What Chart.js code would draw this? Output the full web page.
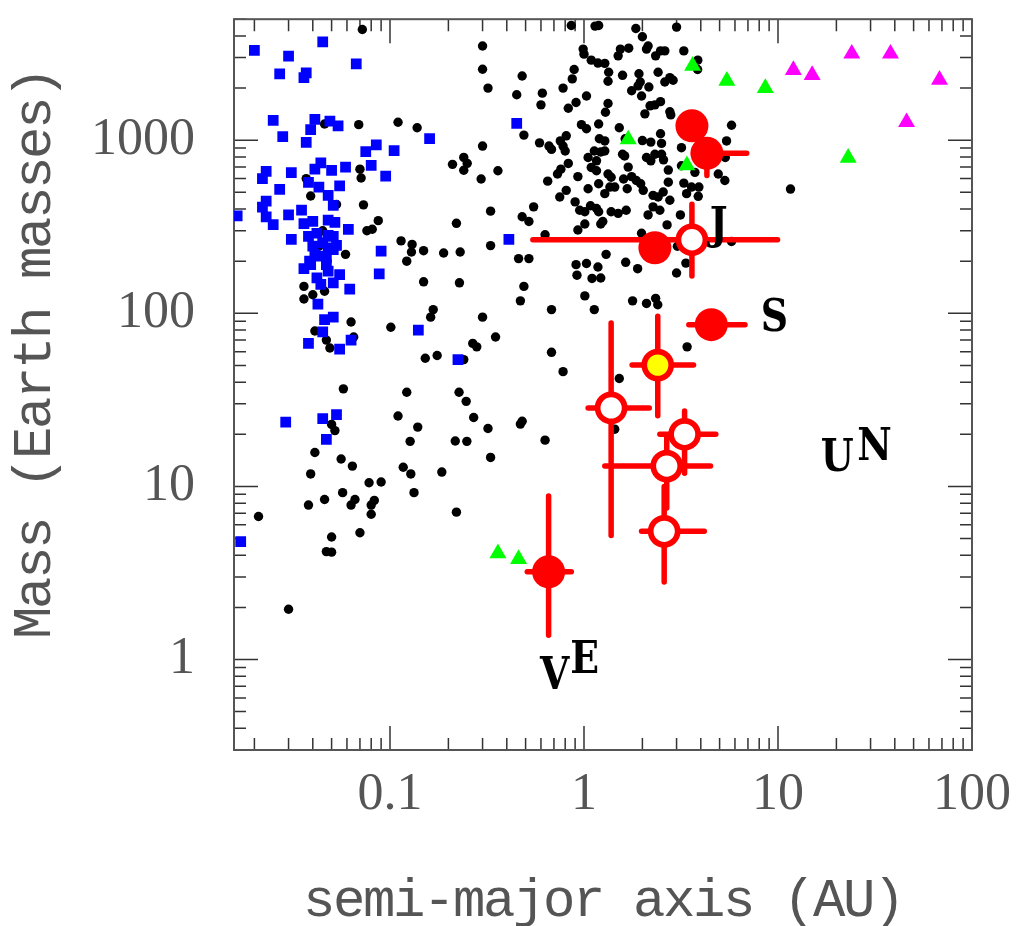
<!DOCTYPE html>
<html>
<head>
<meta charset="utf-8">
<title>Mass vs semi-major axis</title>
<script src="https://cdn.jsdelivr.net/npm/chart.js@4.4.1/dist/chart.umd.min.js"></script>
<style>
  html, body { margin: 0; padding: 0; background: #ffffff; }
</style>
</head>
<body>
<canvas id="massChart" width="1021" height="926"></canvas>
<script>
// values, as [semi-major axis (AU), mass (Earth masses)]
const blackDots = [
  [0.072,4360],[0.046,1240],[0.069,1230],[0.11,1270],[0.138,1180],[0.21,725],[0.24,795],[0.25,735],[0.24,670],[0.070,680],
  [0.071,605],[0.037,600],[0.039,476],[0.053,425],[0.073,423],[0.087,343],[0.076,300],[0.081,306],[0.22,331],[0.114,262],
  [0.130,250],[0.129,226],[0.149,230],[0.189,223],[0.23,226],[0.059,219],[0.122,200],[0.045,300],[0.043,244],
  [0.149,152],[0.228,150],[0.036,143],[0.040,128],[0.046,134],[0.036,121],[0.167,105],[0.162,95],[0.063,89],[0.101,83],
  [0.041,79],[0.065,73],[0.047,70],[0.049,63],[0.267,67],[0.28,64],[0.152,55],[0.175,57],[0.24,54],[0.0575,36.6],
  [0.122,35],[0.227,35],[0.247,31],[0.11,25.5],[0.27,25],[0.050,22.8],[0.052,21],[0.139,22],[0.127,18.2],[0.217,18.3],
  [0.249,18.2],[0.041,15.7],[0.056,14.4],[0.064,13.1],[0.039,11.8],[0.117,12.9],[0.128,11.8],[0.185,12.1],[0.078,10.5],
  [0.090,10.6],[0.057,9.2],[0.133,9.2],[0.046,8.4],[0.066,8.4],[0.083,8.3],[0.038,7.8],[0.063,7.8],[0.080,7.8],
  [0.021,6.7],[0.080,6.9],[0.22,7.1],[0.050,5.1],[0.070,5.4],[0.047,4.2],[0.050,4.17],[0.030,1.95],
  [0.86,4600],[1.14,4560],[1.19,4600],[1.85,4420],[3.0,4500],[0.30,3500],[2.0,3960],[2.14,3500],[2.10,3360],[0.99,3360],
  [1.0,3140],[1.54,3360],[1.70,3400],[1.50,3070],[2.34,3070],[2.48,3280],[2.61,3280],[3.27,3280],[3.86,2900],[1.09,2900],
  [1.18,2790],[1.28,2780],[0.30,2570],[0.48,2350],[0.89,2560],[0.87,2260],[1.34,2470],[1.33,2190],[1.58,2370],[1.92,2420],
  [1.95,2170],[1.90,2060],[2.16,2030],[2.41,2470],[2.61,2170],[2.77,2300],[2.88,2220],[3.85,2560],[0.32,2000],[0.45,1830],
  [0.61,1870],[0.60,1600],[0.78,2000],[0.83,1530],[0.91,1650],[1.03,1800],[1.33,1630],[1.29,1450],[1.76,1930],[1.98,1800],
  [2.19,1580],[2.32,1600],[2.48,1670],[2.06,1420],[2.77,1460],[2.80,1400],[0.49,1070],[0.59,965],[0.66,925],[0.68,885],
  [0.755,990],[0.78,925],[0.81,1060],[0.80,866],[0.97,1230],[1.03,1165],[1.19,1240],[1.2,1020],[1.28,990],[1.52,1180],
  [1.63,1020],[2.0,995],[2.21,975],[2.48,1090],[2.51,958],[3.18,905],[5.43,990],[0.30,925],[0.36,666],[0.295,597],
  [0.65,580],[0.73,638],[0.76,680],[0.83,734],[0.93,616],[1.05,794],[1.13,866],[1.16,760],[1.22,855],[1.28,866],
  [1.09,696],[1.16,666],[1.33,638],[1.38,611],[1.19,560],[1.58,829],[1.62,811],[1.69,699],[1.60,597],[1.76,616],
  [1.86,585],[2.10,794],[2.21,760],[2.32,829],[2.51,829],[2.57,770],[2.72,672],[3.18,712],[2.72,572],[3.27,565],
  [3.73,652],[4.92,638],[5.32,585],[0.75,470],[0.81,513],[0.90,440],[1.05,524],[0.95,394],[1.01,386],[1.08,418],
  [1.16,403],[1.19,386],[1.28,491],[1.36,536],[1.44,536],[1.38,386],[1.50,378],[1.65,394],[1.67,524],[1.96,560],
  [2.02,513],[2.27,480],[2.41,470],[2.56,502],[2.77,450],[3.38,491],[3.58,536],[3.91,536],[3.88,474],[2.27,412],
  [2.46,394],[2.14,370],[0.55,412],[0.48,361],[0.52,339],[0.33,389],[3.14,370],[0.93,303],[1.01,328],[1.22,328],
  [1.25,339],[2.68,324],[1.98,290],[0.63,284],[0.33,246],[3.03,244],[1.30,219],[0.46,207],[0.52,207],[5.35,794],
  [0.91,191],[1.03,194],[1.18,185],[0.92,166],[1.10,159],[1.22,160],[1.64,197],[1.89,181],[3.0,171],[3.35,195],
  [0.49,143],[0.47,118],[1.01,126],[1.13,105],[0.68,105],[1.78,118],[2.10,114],[2.34,122],[2.40,112],[0.30,95],
  [0.35,73],[0.68,59.5],[0.78,46],[1.52,42],[3.40,64],[0.48,23.8],[0.47,22.9],[0.32,21.6],[0.63,18.5],[0.33,14.7],
  [1.44,21.4],[5.76,1220],[11.6,522],[5.76,260]
];

const blueSquares = [
  [0.020,3300],[0.045,3700],[0.030,3060],[0.027,2420],[0.037,2450],[0.036,2300],[0.067,2760],[0.025,1300],[0.041,1320],
  [0.049,1290],[0.054,1210],[0.039,1150],[0.028,1050],[0.037,970],[0.075,860],[0.085,940],[0.105,870],[0.16,1020],
  [0.080,715],[0.059,700],[0.050,670],[0.044,740],[0.041,680],[0.031,650],[0.023,660],[0.022,600],[0.095,620],
  [0.038,570],[0.043,535],[0.055,545],[0.027,520],[0.048,480],[0.023,445],[0.022,410],[0.051,420],[0.0163,365],
  [0.023,360],[0.035,395],[0.030,370],[0.025,325],[0.036,330],[0.040,340],[0.048,345],[0.052,335],[0.061,305],
  [0.031,267],[0.038,278],[0.042,290],[0.048,282],[0.051,278],[0.040,244],[0.053,247],[0.051,233],[0.090,229],
  [0.043,214],[0.047,209],[0.0385,200],[0.045,255],[0.048,239],[0.041,219],
  [0.036,181],[0.039,191],[0.047,191],[0.048,175],[0.042,160],[0.055,167],[0.051,150],[0.044,147],[0.088,169],
  [0.062,138],[0.0425,113],[0.046,92],[0.051,95],[0.045,78],[0.038,67],[0.063,70],[0.055,62],[0.14,80],[0.224,54],
  [0.029,23.5],[0.045,24.6],[0.053,26],[0.047,18.7],[0.017,4.8],[0.45,1250],[0.41,267]
];

const greenTriangles = [
  [3.63,2690],[5.45,2200],[1.69,1010],[3.39,715],[8.6,2000],[23,790],[0.36,4.1],[0.46,3.8]
];

const magentaTriangles = [
  [24,3160],[38,3160],[12,2540],[15,2380],[68,2230],[46,1270]
];

// red planets; error ranges are [low, high] in AU and in Earth masses, null where none is drawn
const filledPlanets = [[3.6,1210],[4.3,840],[2.32,239],[4.53,86],[0.657,3.21]];
const filledErrA = [null, [null, 6.9], null, [3.47, 6.76], [0.51, 0.86]];
const filledErrM = [null, [625, null], null, null, [1.38, 8.8]];

const openPlanets = [[3.6,266],[1.38,28.4],[3.30,20.0],[2.67,13.1],[2.59,5.5]];
const openErrA = [[0.545, 9.95], [1.05, 2.17], [2.46, 4.78], [1.28, 4.49], [1.98, 4.17]];
const openErrM = [[164, 427], [5.2, 88], [11.9, 27.3], [7.5, 19.3], [2.8, 10]];

const yellowPlanets = [[2.40,50.2]];
const yellowErrA = [[1.77, 3.67]];
const yellowErrM = [[25.6, 96]];

// Solar System letters, placed at [AU, Earth masses] (centre, baseline)
const letterText = ['J', 'S', 'U', 'N', 'V', 'E'];
const letterA = [4.95, 9.57, 20.2, 31.4, 0.706, 1.008];
const letterM = [268, 78.6, 12.2, 14.3, 0.678, 0.832];

const xTickValues = [0.1, 1, 10, 100];
const xTickLabels = ['0.1', '1', '10', '100'];
const yTickValues = [1, 10, 100, 1000];
const yTickLabels = ['1', '10', '100', '1000'];
const xTitle = 'semi-major axis (AU)';
const yTitle = 'Mass (Earth masses)';

const toXY = (list) => list.map(p => ({ x: p[0], y: p[1] }));

const errorGroups = [
  { points: filledPlanets, errA: filledErrA, errM: filledErrM },
  { points: openPlanets, errA: openErrA, errM: openErrM },
  { points: yellowPlanets, errA: yellowErrA, errM: yellowErrM }
];

/**
 * box round the plot with inward tick marks on all four sides
 */
const frameTicks = {
  id: 'frameTicks',
  beforeDatasetsDraw (chart) {
    const { ctx, chartArea: a, scales: { x, y } } = chart;
    ctx.save();
    ctx.strokeStyle = '#333';
    ctx.lineWidth = 1.5;
    ctx.beginPath();
    for (let d = -2; d <= 3; d++) {
      for (let k = 1; k <= 9; k++) {
        const v = k * Math.pow(10, d);
        const len = k === 1 ? 24 : 12;
        if (v >= x.min && v <= x.max) {
          const px = x.getPixelForValue(v);
          ctx.moveTo(px, a.bottom); ctx.lineTo(px, a.bottom - len);
          ctx.moveTo(px, a.top); ctx.lineTo(px, a.top + len);
        }
        if (v >= y.min && v <= y.max) {
          const py = y.getPixelForValue(v);
          ctx.moveTo(a.left, py); ctx.lineTo(a.left + len, py);
          ctx.moveTo(a.right, py); ctx.lineTo(a.right - len, py);
        }
      }
    }
    ctx.stroke();
    ctx.strokeStyle = '#555';
    ctx.lineWidth = 2;
    ctx.strokeRect(a.left, a.top, a.right - a.left, a.bottom - a.top);
    ctx.restore();
  }
};

/**
 * red error bars, drawn just before the red circles so the circles sit on top
 */
const errorBars = {
  id: 'errorBars',
  beforeDatasetDraw (chart, args) {
    if (chart.data.datasets[args.index].label !== 'filled') return;
    const { ctx, scales: { x, y } } = chart;
    ctx.save();
    ctx.strokeStyle = '#ff0000';
    ctx.lineWidth = 5.5;
    ctx.lineCap = 'round';
    errorGroups.forEach(g => {
      g.points.forEach((p, i) => {
        const px = x.getPixelForValue(p[0]);
        const py = y.getPixelForValue(p[1]);
        const ea = g.errA[i];
        const em = g.errM[i];
        ctx.beginPath();
        if (ea) {
          ea.forEach(v => {
            if (v !== null) { ctx.moveTo(px, py); ctx.lineTo(x.getPixelForValue(v), py); }
          });
        }
        if (em) {
          em.forEach(v => {
            if (v !== null) { ctx.moveTo(px, py); ctx.lineTo(px, y.getPixelForValue(v)); }
          });
        }
        ctx.stroke();
      });
    });
    ctx.restore();
  }
};

/**
 * planet letters and the two axis titles
 */
const annotations = {
  id: 'annotations',
  afterDraw (chart) {
    const { ctx, chartArea: a, scales: { x, y } } = chart;
    ctx.save();
    ctx.fillStyle = '#000';
    ctx.font = 'bold 45px "DejaVu Serif", serif';
    ctx.textAlign = 'center';
    ctx.textBaseline = 'alphabetic';
    letterText.forEach((t, i) => {
      ctx.save();
      ctx.translate(x.getPixelForValue(letterA[i]), y.getPixelForValue(letterM[i]));
      ctx.scale(0.84, 1);
      ctx.fillText(t, 0, 0);
      ctx.restore();
    });

    ctx.fillStyle = '#555';
    ctx.font = '54px "Liberation Mono", "Courier New", monospace';
    if ('letterSpacing' in ctx) ctx.letterSpacing = '-2.4px';
    ctx.fillText(xTitle, (a.left + a.right) / 2, 916);
    ctx.translate(50, 354);
    ctx.rotate(-Math.PI / 2);
    ctx.fillText(yTitle, 0, 0);
    ctx.restore();
  }
};

const tickFont = { family: '"Liberation Serif", "Times New Roman", serif', size: 52 };

const config = {
  type: 'scatter',
  data: {
    datasets: [
      { label: 'open', data: toXY(openPlanets), pointStyle: 'circle', pointRadius: 13.5, borderWidth: 5.7, borderColor: '#ff0000', backgroundColor: '#ffffff', order: 0 },
      { label: 'yellow', data: toXY(yellowPlanets), pointStyle: 'circle', pointRadius: 13.5, borderWidth: 5.7, borderColor: '#ff0000', backgroundColor: '#ffff00', order: 0 },
      { label: 'filled', data: toXY(filledPlanets), pointStyle: 'circle', pointRadius: 16.5, borderWidth: 0, backgroundColor: '#ff0000', order: 1 },
      { label: 'magenta', data: toXY(magentaTriangles), pointStyle: 'triangle', pointRadius: 9.8, borderWidth: 0, backgroundColor: '#ff00ff', order: 2 },
      { label: 'green', data: toXY(greenTriangles), pointStyle: 'triangle', pointRadius: 9.8, borderWidth: 0, backgroundColor: '#00ff00', order: 2 },
      { label: 'blue', data: toXY(blueSquares), pointStyle: 'rect', pointRadius: 7.6, borderWidth: 0, backgroundColor: '#0000ff', order: 3 },
      { label: 'black', data: toXY(blackDots), pointStyle: 'circle', pointRadius: 4.7, borderWidth: 0, backgroundColor: '#000000', order: 4 }
    ]
  },
  options: {
    responsive: false,
    animation: false,
    events: [],
    layout: { padding: { left: 0, top: 13, right: 49, bottom: 0 } },
    plugins: { legend: { display: false }, tooltip: { enabled: false } },
    scales: {
      x: {
        type: 'logarithmic',
        min: 0.0157,
        max: 100,
        grid: { display: false, drawTicks: false },
        border: { display: false },
        afterBuildTicks: (axis) => { axis.ticks = xTickValues.map(v => ({ value: v })); },
        afterFit: (axis) => { axis.height = 176; axis.paddingLeft = 0; axis.paddingRight = 0; },
        ticks: {
          autoSkip: false,
          maxRotation: 0,
          minRotation: 0,
          padding: 14,
          color: '#555',
          font: tickFont,
          callback: (value) => xTickLabels[xTickValues.indexOf(value)]
        }
      },
      y: {
        type: 'logarithmic',
        min: 0.318,
        max: 5000,
        grid: { display: false, drawTicks: false },
        border: { display: false },
        afterBuildTicks: (axis) => { axis.ticks = yTickValues.map(v => ({ value: v })); },
        afterFit: (axis) => { axis.width = 234; axis.paddingTop = 0; axis.paddingBottom = 0; },
        ticks: {
          autoSkip: false,
          padding: 39,
          color: '#555',
          font: tickFont,
          callback: (value) => yTickLabels[yTickValues.indexOf(value)]
        }
      }
    }
  },
  plugins: [frameTicks, errorBars, annotations]
};

const massChart = new Chart(document.getElementById('massChart'), config);
</script>
</body>
</html>
